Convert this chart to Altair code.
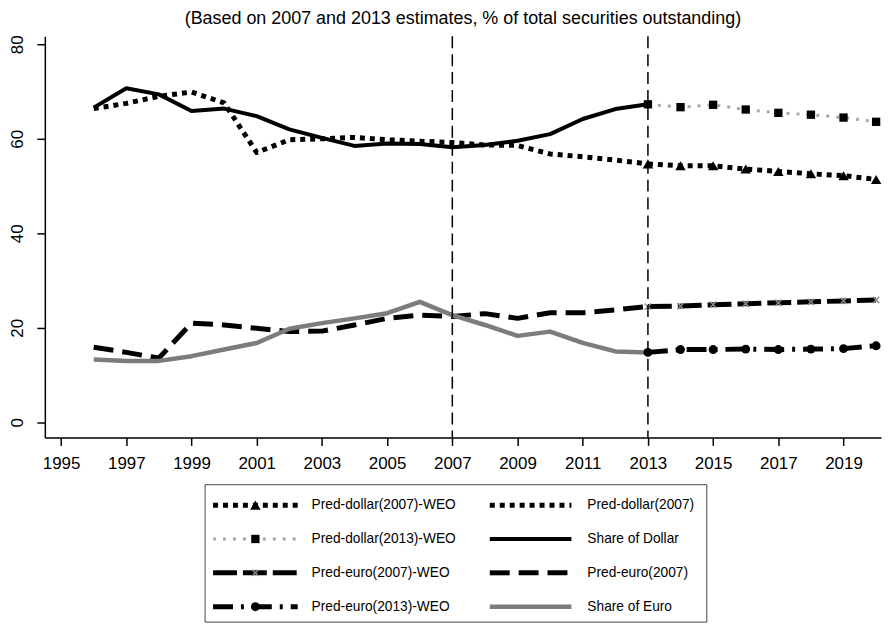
import altair as alt
import pandas as pd

# ---------------- data ----------------
years_hist = list(range(1996, 2014))
years_proj = list(range(2013, 2021))

share_dollar = [66.6, 70.7, 69.4, 65.9, 66.4, 64.8, 62.0, 60.2, 58.5, 59.0, 58.9, 58.2, 58.7, 59.6, 61.0, 64.2, 66.3, 67.3]
pred_dollar_2007 = [66.4, 67.5, 69.0, 69.9, 67.6, 57.1, 59.8, 60.0, 60.3, 59.8, 59.5, 59.2, 58.7, 58.6, 56.8, 56.2, 55.5, 54.7]
share_euro = [13.3, 13.0, 13.0, 14.0, 15.4, 16.8, 19.8, 21.0, 22.0, 23.1, 25.5, 22.7, 20.6, 18.3, 19.2, 16.8, 15.0, 14.8]
pred_euro_2007 = [15.9, 14.8, 13.6, 21.0, 20.6, 19.9, 19.2, 19.3, 20.6, 22.0, 22.7, 22.4, 23.0, 22.0, 23.2, 23.2, 23.8, 24.5]

pred_dollar_2007_weo = [54.7, 54.3, 54.3, 53.6, 53.1, 52.6, 52.2, 51.4]
pred_dollar_2013_weo = [67.3, 66.7, 67.2, 66.2, 65.5, 65.1, 64.5, 63.6]
pred_euro_2007_weo = [24.5, 24.6, 24.9, 25.1, 25.3, 25.5, 25.7, 25.9]
pred_euro_2013_weo = [14.8, 15.4, 15.4, 15.5, 15.4, 15.5, 15.6, 16.2]

ref_years = [2007, 2013]
x_ticks = list(range(1995, 2020, 2))
y_ticks = [0, 20, 40, 60, 80]
title_text = "(Based on 2007 and 2013 estimates, % of total securities outstanding)"

legend_labels = [
    "Pred-dollar(2007)-WEO", "Pred-dollar(2007)",
    "Pred-dollar(2013)-WEO", "Share of Dollar",
    "Pred-euro(2007)-WEO", "Pred-euro(2007)",
    "Pred-euro(2013)-WEO", "Share of Euro",
]

series = {
    "Pred-euro(2007)": (years_hist, pred_euro_2007),
    "Share of Euro": (years_hist, share_euro),
    "Pred-dollar(2007)": (years_hist, pred_dollar_2007),
    "Share of Dollar": (years_hist, share_dollar),
    "Pred-euro(2007)-WEO": (years_proj, pred_euro_2007_weo),
    "Pred-euro(2013)-WEO": (years_proj, pred_euro_2013_weo),
    "Pred-dollar(2007)-WEO": (years_proj, pred_dollar_2007_weo),
    "Pred-dollar(2013)-WEO": (years_proj, pred_dollar_2013_weo),
}

X_SHAPE = "M-1,-1L1,1M-1,1L1,-1"
styles = {
    "Share of Dollar": dict(color="black", width=4),
    "Share of Euro": dict(color="#7c7c7c", width=4.5),
    "Pred-dollar(2007)": dict(color="black", width=5, dash=[5, 5]),
    "Pred-dollar(2007)-WEO": dict(color="black", width=5, dash=[5, 5],
                                  marker=dict(shape="triangle-up", filled=True, color="black", size=110)),
    "Pred-dollar(2013)-WEO": dict(color="#a8a8a8", width=3, dash=[3, 7],
                                  marker=dict(shape="square", filled=True, color="black", size=70)),
    "Pred-euro(2007)": dict(color="black", width=5, dash=[20, 9]),
    "Pred-euro(2007)-WEO": dict(color="black", width=5, dash=[24, 6],
                                marker=dict(shape=X_SHAPE, filled=False, color="#8a8a8a", size=40, strokeWidth=1.5)),
    "Pred-euro(2013)-WEO": dict(color="black", width=5, dash=[20, 8, 3, 8],
                                marker=dict(shape="circle", filled=True, color="black", size=80)),
}

FONT = "Liberation Sans"

# ---------------- main plot ----------------
xs = alt.Scale(domain=[1994.5, 2020.15], nice=False, zero=False)
ys = alt.Scale(domain=[-3.2, 81.7], nice=False, zero=False)
x_axis = alt.Axis(values=x_ticks, format="d", title=None)
y_axis = alt.Axis(values=y_ticks, title=None, labelAngle=-90)


def line_kw(st):
    kw = dict(color=st["color"], strokeWidth=st["width"], strokeCap="butt", strokeJoin="round")
    if "dash" in st:
        kw["strokeDash"] = st["dash"]
    return kw


def marker_kw(m):
    kw = dict(shape=m["shape"], filled=m["filled"], size=m["size"], opacity=1)
    if m["filled"]:
        kw["fill"] = m["color"]
        kw["strokeWidth"] = 0
    else:
        kw["stroke"] = m["color"]
        kw["strokeWidth"] = m.get("strokeWidth", 1)
    return kw


layers = []
for name, (yrs, vals) in series.items():
    df = pd.DataFrame({"year": yrs, "value": vals})
    st = styles[name]
    enc = dict(x=alt.X("year:Q", scale=xs, axis=x_axis), y=alt.Y("value:Q", scale=ys, axis=y_axis))
    layers.append(alt.Chart(df).mark_line(**line_kw(st)).encode(**enc))
for name, (yrs, vals) in series.items():
    st = styles[name]
    if "marker" in st:
        df = pd.DataFrame({"year": yrs, "value": vals})
        enc = dict(x=alt.X("year:Q", scale=xs, axis=x_axis), y=alt.Y("value:Q", scale=ys, axis=y_axis))
        layers.append(alt.Chart(df).mark_point(**marker_kw(st["marker"])).encode(**enc))

rules = alt.Chart(pd.DataFrame({"year": ref_years})).mark_rule(
    color="black", strokeWidth=1.5, strokeDash=[12, 6]
).encode(x=alt.X("year:Q", scale=xs, axis=x_axis))
layers.append(rules)

main = alt.layer(*layers).properties(
    width=840, height=403,
    title=alt.TitleParams(title_text, fontSize=18, font=FONT, fontWeight="normal",
                          anchor="middle", offset=7, color="black"),
)

# ---------------- legend panel ----------------
LW, LH = 840, 139
box_left, box_right = 161, 665
lxs = alt.Scale(domain=[0, LW], nice=False, zero=False)
lys = alt.Scale(domain=[0, LH], nice=False, zero=False, reverse=True)

leg_layers = []
box = pd.DataFrame({"x0": [box_left], "x1": [box_right], "y0": [0.5], "y1": [LH - 0.5]})
leg_layers.append(alt.Chart(box).mark_rect(fillOpacity=0, stroke="#444", strokeWidth=1).encode(
    x=alt.X("x0:Q", scale=lxs, axis=None), x2="x1:Q",
    y=alt.Y("y0:Q", scale=lys, axis=None), y2="y1:Q"))

text_rows = []
for i, lab in enumerate(legend_labels):
    col, row = i % 2, i // 2
    x0 = box_left + 8 + col * 278
    x1 = x0 + (85 if col == 0 else 82)
    yy = 21 + row * 34
    st = styles[lab]
    sdf = pd.DataFrame({"lx": [x0, x1], "ly": [yy, yy]})
    leg_layers.append(alt.Chart(sdf).mark_line(**line_kw(st)).encode(
        x=alt.X("lx:Q", scale=lxs, axis=None), y=alt.Y("ly:Q", scale=lys, axis=None)))
    if "marker" in st:
        mdf = pd.DataFrame({"lx": [(x0 + x1) / 2], "ly": [yy]})
        leg_layers.append(alt.Chart(mdf).mark_point(**marker_kw(st["marker"])).encode(
            x=alt.X("lx:Q", scale=lxs, axis=None), y=alt.Y("ly:Q", scale=lys, axis=None)))
    text_rows.append({"lx": x0 + (99 if col == 0 else 98), "ly": yy, "label": lab})

tdf = pd.DataFrame(text_rows)
leg_layers.append(alt.Chart(tdf).mark_text(align="left", baseline="middle", font=FONT,
                                           fontSize=13.8, color="black").encode(
    x=alt.X("lx:Q", scale=lxs, axis=None), y=alt.Y("ly:Q", scale=lys, axis=None), text="label:N"))

legend = alt.layer(*leg_layers).properties(width=LW, height=LH)

chart = alt.vconcat(main, legend, spacing=47, bounds="flush").properties(
    padding={"left": 0, "top": 0, "right": 0, "bottom": 0},
    background="white",
).configure_view(stroke="transparent").configure_axis(
    domainColor="black", domainWidth=1.5, tickColor="black", tickWidth=1.5, tickSize=8,
    labelFont=FONT, labelFontSize=17, labelColor="black", labelPadding=10, grid=False,
)

chart.save("out.html", embed_options={"renderer": "svg", "actions": False})
